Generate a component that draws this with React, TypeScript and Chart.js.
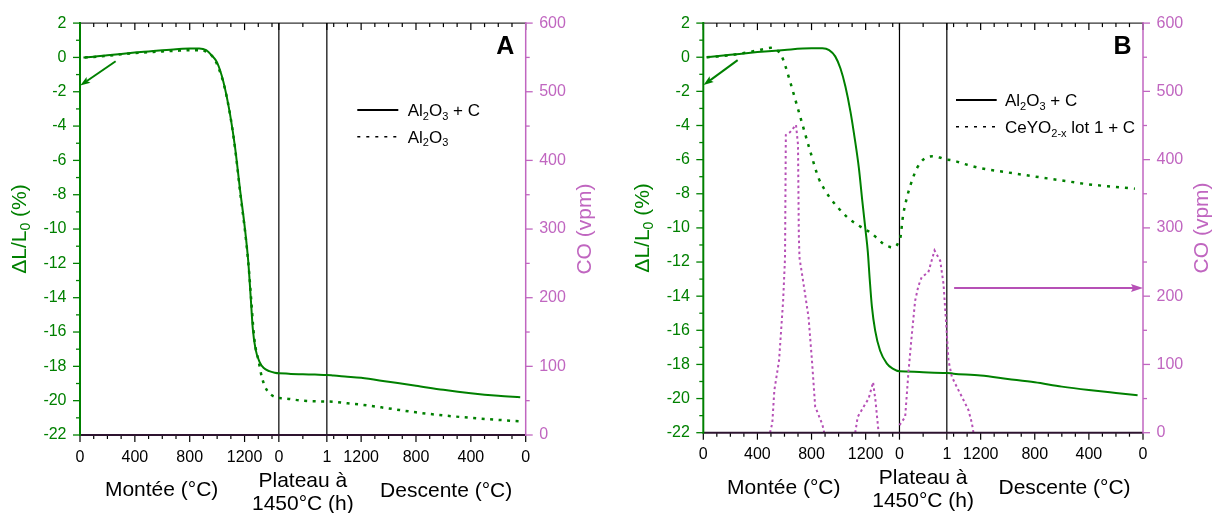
import React, { useEffect, useRef } from "react";
import { Chart, registerables } from "chart.js";

Chart.register(...registerables);

type Pt = [number, number];

// ---- composite x axis: heating ramp (°C), 1 h hold, cooling (°C) ----
const RAMP_MAX = 1450;
const HOLD_SPAN = 350;
const X_MAX = 2 * RAMP_MAX + HOLD_SPAN;

const rampTickLabels = [0, 400, 800, 1200];
const holdTickLabels = [0, 1];
const coolTickLabels = [1200, 800, 400, 0];

// ---- Panel A : ΔL/L0 (%) ----
const aSolidRamp: Pt[] = [[25, 0], [100, 0.04], [200, 0.12], [300, 0.2], [400, 0.28], [500, 0.35], [600, 0.42], [700, 0.48], [800, 0.52], [870, 0.52], [920, 0.42], [960, 0.12], [1000, -0.3], [1045, -1.4], [1094, -3.3], [1130, -5.2], [1167, -7.7], [1203, -10.0], [1227, -11.9], [1245, -14.0], [1260, -15.8], [1280, -17.0], [1310, -17.75], [1340, -18.1], [1380, -18.28], [1420, -18.37], [1450, -18.4]];
const aSolidHold: Pt[] = [[0, -18.4], [0.25, -18.44], [0.5, -18.46], [0.75, -18.48], [1, -18.5]];
const aSolidCool: Pt[] = [[1450, -18.5], [1400, -18.54], [1300, -18.6], [1200, -18.67], [1000, -18.9], [800, -19.13], [600, -19.37], [400, -19.57], [200, -19.72], [40, -19.8]];

const aDotRamp: Pt[] = [[35, 0], [100, 0.03], [200, 0.1], [300, 0.18], [400, 0.25], [500, 0.3], [600, 0.35], [700, 0.39], [800, 0.42], [880, 0.42], [930, 0.3], [970, 0.02], [1005, -0.5], [1050, -1.6], [1098, -3.5], [1134, -5.5], [1170, -8.0], [1206, -10.3], [1230, -12.2], [1250, -14.3], [1265, -15.9], [1280, -16.9], [1300, -17.6], [1325, -18.6], [1350, -19.2], [1385, -19.6], [1420, -19.78], [1450, -19.85]];
const aDotHold: Pt[] = [[0, -19.85], [0.5, -20.0], [1, -20.05]];
const aDotCool: Pt[] = [[1450, -20.05], [1300, -20.15], [1200, -20.23], [1000, -20.45], [800, -20.68], [600, -20.86], [400, -21.0], [200, -21.12], [40, -21.2]];

// ---- Panel B : ΔL/L0 (%) ----
const bSolidRamp: Pt[] = [[25, 0], [200, 0.14], [400, 0.3], [600, 0.43], [800, 0.52], [880, 0.52], [930, 0.42], [975, 0.05], [1014, -0.66], [1050, -1.7], [1088, -3.2], [1120, -4.8], [1150, -6.5], [1175, -8.4], [1200, -10.2], [1216, -11.4], [1230, -13.0], [1246, -14.6], [1270, -16.0], [1307, -17.2], [1357, -17.95], [1400, -18.25], [1450, -18.4]];
const bSolidHold: Pt[] = [[0, -18.4], [0.5, -18.46], [1, -18.5]];
const bSolidCool: Pt[] = [[1450, -18.5], [1400, -18.54], [1200, -18.65], [1000, -18.85], [800, -19.05], [600, -19.3], [400, -19.5], [200, -19.67], [40, -19.8]];

const bDotRamp: Pt[] = [[25, 0], [100, 0.04], [200, 0.12], [300, 0.25], [400, 0.4], [460, 0.5], [500, 0.55], [530, 0.5], [560, 0.3], [580, 0.05], [610, -0.6], [642, -1.44], [691, -2.78], [740, -4.14], [790, -5.5], [852, -7.08], [900, -7.8], [938, -8.25], [1000, -8.85], [1062, -9.36], [1120, -9.72], [1185, -10.04], [1240, -10.3], [1284, -10.6], [1333, -10.95], [1380, -11.12], [1410, -11.15], [1432, -11.0], [1450, -10.75]];
const bDotHold: Pt[] = [[0, -10.75], [0.08, -9.2], [0.15, -8.3], [0.22, -7.6], [0.3, -6.95], [0.37, -6.5], [0.5, -6.0], [0.6, -5.85], [0.7, -5.8], [0.85, -5.88], [1, -6.0]];
const bDotCool: Pt[] = [[1450, -6.0], [1300, -6.3], [1200, -6.5], [1000, -6.75], [800, -6.99], [600, -7.22], [400, -7.45], [200, -7.6], [60, -7.7]];

// ---- Panel B : CO (vpm) ----
const bCoPeak1Ramp: Pt[] = [[493, 0], [510, 14], [525, 62], [560, 106], [590, 193], [604, 256], [610, 436], [640, 440], [685, 451], [700, 422], [706, 290], [711, 256], [741, 218], [778, 169], [803, 106], [827, 38], [860, 22], [880, 12], [894, 0]];
const bCoPeak2Ramp: Pt[] = [[1123, 0], [1141, 23], [1185, 38], [1222, 50], [1255, 74], [1272, 48], [1296, 0]];
const bCoPeak3Hold: Pt[] = [[0, 11], [0.12, 23], [0.19, 89], [0.26, 143], [0.33, 193], [0.4, 215], [0.47, 228], [0.61, 235], [0.74, 267], [0.86, 252], [0.93, 218], [1, 145]];
const bCoPeak3Cool: Pt[] = [[1438, 106], [1413, 82], [1376, 67], [1327, 48], [1290, 33], [1265, 14], [1253, 0]];

// ---- styles ----
const GREEN = "#008000";
const PURPLE = "#B650B6";
const PURPLE_AXIS = "#C066C0";
const FONT = '"Liberation Sans", Arial, Helvetica, sans-serif';

type Phase = "ramp" | "hold" | "cool";
const ux = (phase: Phase, v: number) =>
  phase === "ramp" ? v : phase === "hold" ? RAMP_MAX + v * HOLD_SPAN : RAMP_MAX + HOLD_SPAN + (RAMP_MAX - v);

const toXY = (phase: Phase, pts: Pt[]) => pts.map(([a, b]) => ({ x: ux(phase, a), y: b }));
const series = (ramp: Pt[], hold: Pt[], cool: Pt[]) => [...toXY("ramp", ramp), ...toXY("hold", hold), ...toXY("cool", cool)];

const xTickValues = [
  ...rampTickLabels.map((v) => ux("ramp", v)),
  ...holdTickLabels.map((v) => ux("hold", v)),
  ...coolTickLabels.map((v) => ux("cool", v)),
];
const xTickText = [...rampTickLabels, ...holdTickLabels, ...coolTickLabels].map(String);

type Seg = { t: string; sub?: boolean };

function richWidth(ctx: CanvasRenderingContext2D, segs: Seg[], size: number) {
  let w = 0;
  for (const s of segs) {
    ctx.font = `${s.sub ? Math.round(size * 0.66) : size}px ${FONT}`;
    w += ctx.measureText(s.t).width;
  }
  return w;
}

function drawRich(ctx: CanvasRenderingContext2D, segs: Seg[], x: number, y: number, size: number, color: string, align: "left" | "center") {
  ctx.fillStyle = color;
  ctx.textBaseline = "alphabetic";
  ctx.textAlign = "left";
  let cx = align === "center" ? x - richWidth(ctx, segs, size) / 2 : x;
  for (const s of segs) {
    ctx.font = `${s.sub ? Math.round(size * 0.66) : size}px ${FONT}`;
    ctx.fillText(s.t, cx, s.sub ? y + size * 0.22 : y);
    cx += ctx.measureText(s.t).width;
  }
}

function seg(ctx: CanvasRenderingContext2D, x1: number, y1: number, x2: number, y2: number) {
  ctx.beginPath();
  ctx.moveTo(x1, y1);
  ctx.lineTo(x2, y2);
  ctx.stroke();
}

function arrow(ctx: CanvasRenderingContext2D, x1: number, y1: number, x2: number, y2: number, color: string, width: number, hl: number, hw: number) {
  const a = Math.atan2(y2 - y1, x2 - x1);
  const bx = x2 - hl * Math.cos(a);
  const by = y2 - hl * Math.sin(a);
  ctx.strokeStyle = color;
  ctx.lineWidth = width;
  ctx.setLineDash([]);
  seg(ctx, x1, y1, bx + 2 * Math.cos(a), by + 2 * Math.sin(a));
  ctx.fillStyle = color;
  ctx.beginPath();
  ctx.moveTo(x2, y2);
  ctx.lineTo(bx + (hw / 2) * Math.sin(a), by - (hw / 2) * Math.cos(a));
  ctx.lineTo(bx + 2 * Math.cos(a), by + 2 * Math.sin(a));
  ctx.lineTo(bx - (hw / 2) * Math.sin(a), by + (hw / 2) * Math.cos(a));
  ctx.closePath();
  ctx.fill();
}

type LegendItem = { segs: Seg[]; dotted: boolean; y: number; textY: number };
type ArrowCfg = { from: [number, number]; to: [number, number]; axis: "y" | "y1"; color: string; hl: number; hw: number };

interface PanelCfg {
  letter: string;
  width: number;
  top: number;
  leftW: number;
  rightW: number;
  xH: number;
  xPad: number;
  legendX0: number;
  legendX1: number;
  legendTextX: number;
  legend: LegendItem[];
  arrows: ArrowCfg[];
  datasets: any[];
}

function makeDecor(cfg: PanelCfg) {
  return {
    id: "decor" + cfg.letter,
    beforeDatasetsDraw(chart: any) {
      const ctx: CanvasRenderingContext2D = chart.ctx;
      const xs = chart.scales.x;
      const { top, bottom } = chart.chartArea;
      ctx.save();
      ctx.strokeStyle = "#000";
      ctx.lineWidth = 1.2;
      for (const u of [ux("hold", 0), ux("hold", 1)]) {
        const p = xs.getPixelForValue(u);
        seg(ctx, p, top, p, bottom);
      }
      ctx.restore();
    },
    afterDraw(chart: any) {
      const ctx: CanvasRenderingContext2D = chart.ctx;
      const xs = chart.scales.x;
      const yl = chart.scales.y;
      const yr = chart.scales.y1;
      const { left, right, top, bottom } = chart.chartArea;
      ctx.save();
      ctx.setLineDash([]);

      // x ticks (bottom outward, top inward)
      const xt: [number, boolean][] = [];
      for (let T = 0; T <= 1400; T += 100) xt.push([ux("ramp", T), T % 400 === 0]);
      xt.push([ux("hold", 0), true], [ux("hold", 0.5), false], [ux("hold", 1), true]);
      for (let T = 1400; T >= 0; T -= 100) xt.push([ux("cool", T), T % 400 === 0]);
      ctx.strokeStyle = "#000";
      ctx.lineWidth = 1.2;
      for (const [u, major] of xt) {
        const p = xs.getPixelForValue(u);
        const L = major ? 7 : 4;
        seg(ctx, p, bottom, p, bottom + L);
        seg(ctx, p, top, p, top + L);
      }
      // top axis line
      ctx.lineWidth = 1;
      seg(ctx, left, top, right, top);
      // bottom axis line
      ctx.strokeStyle = "#2e1430";
      ctx.lineWidth = 2;
      seg(ctx, left, bottom, right, bottom);

      // left axis
      ctx.strokeStyle = GREEN;
      ctx.lineWidth = 1.3;
      for (let v = -22; v <= 2; v += 1) {
        const p = yl.getPixelForValue(v);
        seg(ctx, left, p, left - (v % 2 === 0 ? 7 : 4), p);
      }
      ctx.lineWidth = 2;
      seg(ctx, left, top - 1, left, bottom + 1);

      // right axis
      ctx.strokeStyle = PURPLE_AXIS;
      ctx.lineWidth = 1.3;
      for (let v = 0; v <= 600; v += 50) {
        const p = yr.getPixelForValue(v);
        seg(ctx, right, p, right + (v % 100 === 0 ? 7 : 4), p);
      }
      ctx.lineWidth = 1.5;
      seg(ctx, right, top - 1, right, bottom + 1);

      // arrows
      for (const a of cfg.arrows) {
        const ys = chart.scales[a.axis];
        arrow(
          ctx,
          xs.getPixelForValue(a.from[0]), ys.getPixelForValue(a.from[1]),
          xs.getPixelForValue(a.to[0]), ys.getPixelForValue(a.to[1]),
          a.color, 2, a.hl, a.hw
        );
      }

      // panel letter
      ctx.fillStyle = "#000";
      ctx.font = `bold 25px ${FONT}`;
      ctx.textAlign = "left";
      ctx.textBaseline = "alphabetic";
      ctx.fillText(cfg.letter, right - 29.5, 53.5);

      // legend
      for (const it of cfg.legend) {
        ctx.strokeStyle = "#000";
        ctx.lineWidth = it.dotted ? 1.6 : 2;
        ctx.setLineDash(it.dotted ? [3, 6] : []);
        seg(ctx, cfg.legendX0, it.y, cfg.legendX1, it.y);
        ctx.setLineDash([]);
        drawRich(ctx, it.segs, cfg.legendTextX, it.textY, 17, "#000", "left");
      }

      // axis titles
      const cy = (top + bottom) / 2;
      ctx.save();
      ctx.translate(left - 54.5, cy);
      ctx.rotate(-Math.PI / 2);
      drawRich(ctx, [{ t: "ΔL/L" }, { t: "0", sub: true }, { t: " (%)" }], 0, 0, 21, GREEN, "center");
      ctx.restore();
      ctx.save();
      ctx.translate(right + 65, cy);
      ctx.rotate(-Math.PI / 2);
      drawRich(ctx, [{ t: "CO (vpm)" }], 0, 0, 21, PURPLE_AXIS, "center");
      ctx.restore();

      drawRich(ctx, [{ t: "Montée (°C)" }], xs.getPixelForValue(ux("ramp", 595)), bottom + 61, 21, "#000", "center");
      drawRich(ctx, [{ t: "Plateau à" }], xs.getPixelForValue(ux("hold", 0.5)), bottom + 51.5, 21, "#000", "center");
      drawRich(ctx, [{ t: "1450°C (h)" }], xs.getPixelForValue(ux("hold", 0.5)), bottom + 74.5, 21, "#000", "center");
      drawRich(ctx, [{ t: "Descente (°C)" }], xs.getPixelForValue(ux("cool", 580)), bottom + 61.5, 21, "#000", "center");

      ctx.restore();
    },
  };
}

function buildConfig(cfg: PanelCfg): any {
  const tickFont = { family: FONT, size: 16 };
  return {
    type: "line",
    data: { datasets: cfg.datasets },
    options: {
      responsive: false,
      maintainAspectRatio: false,
      animation: false,
      devicePixelRatio: 1,
      layout: { padding: { top: cfg.top, left: 0, right: 0, bottom: 0 } },
      plugins: { legend: { display: false }, tooltip: { enabled: false }, title: { display: false } },
      elements: { point: { radius: 0, hoverRadius: 0 } },
      scales: {
        x: {
          type: "linear",
          min: 0,
          max: X_MAX,
          afterBuildTicks: (s: any) => {
            s.ticks = xTickValues.map((v) => ({ value: v }));
          },
          afterFit: (s: any) => {
            s.height = cfg.xH;
          },
          ticks: {
            autoSkip: false,
            maxRotation: 0,
            minRotation: 0,
            padding: cfg.xPad,
            color: "#000",
            font: tickFont,
            callback: (_v: any, i: number) => xTickText[i],
          },
          grid: { display: false, drawTicks: false },
          border: { display: false },
        },
        y: {
          position: "left",
          min: -22,
          max: 2,
          afterFit: (s: any) => {
            s.width = cfg.leftW;
          },
          ticks: { stepSize: 2, padding: 13.5, color: GREEN, font: tickFont },
          grid: { display: false, drawTicks: false },
          border: { display: false },
        },
        y1: {
          position: "right",
          min: 0,
          max: 600,
          afterFit: (s: any) => {
            s.width = cfg.rightW;
          },
          ticks: { stepSize: 100, padding: 13.5, color: PURPLE_AXIS, font: tickFont },
          grid: { display: false, drawTicks: false },
          border: { display: false },
        },
      },
    },
    plugins: [makeDecor(cfg)],
  };
}

const solidStyle = { borderColor: GREEN, borderWidth: 2, fill: false, cubicInterpolationMode: "monotone", yAxisID: "y", pointRadius: 0 };
const dotStyle = { borderColor: GREEN, borderWidth: 2.5, borderDash: [3, 5.5], fill: false, cubicInterpolationMode: "monotone", yAxisID: "y", pointRadius: 0 };

const coData = [
  ...toXY("ramp", bCoPeak1Ramp),
  { x: ux("ramp", 1000), y: null },
  ...toXY("ramp", bCoPeak2Ramp),
  { x: ux("ramp", 1400), y: null },
  ...toXY("hold", bCoPeak3Hold),
  ...toXY("cool", bCoPeak3Cool),
];

const panelA: PanelCfg = {
  letter: "A",
  width: 608,
  top: 17.3,
  leftW: 80,
  rightW: 82.3,
  xH: 78,
  xPad: 13,
  legendX0: 357.3,
  legendX1: 398.3,
  legendTextX: 407.7,
  legend: [
    { segs: [{ t: "Al" }, { t: "2", sub: true }, { t: "O" }, { t: "3", sub: true }, { t: " + C" }], dotted: false, y: 110, textY: 116 },
    { segs: [{ t: "Al" }, { t: "2", sub: true }, { t: "O" }, { t: "3", sub: true }], dotted: true, y: 136.7, textY: 142.5 },
  ],
  arrows: [{ from: [ux("ramp", 260), -0.22], to: [ux("ramp", 2), -1.64], axis: "y", color: GREEN, hl: 10, hw: 7 }],
  datasets: [
    { label: "Al2O3 + C", data: series(aSolidRamp, aSolidHold, aSolidCool), ...solidStyle },
    { label: "Al2O3", data: series(aDotRamp, aDotHold, aDotCool), ...dotStyle },
  ],
};

const panelB: PanelCfg = {
  letter: "B",
  width: 609,
  top: 21,
  leftW: 95.3,
  rightW: 74,
  xH: 80.3,
  xPad: 12,
  legendX0: 348,
  legendX1: 388.7,
  legendTextX: 397,
  legend: [
    { segs: [{ t: "Al" }, { t: "2", sub: true }, { t: "O" }, { t: "3", sub: true }, { t: " + C" }], dotted: false, y: 100, textY: 106 },
    { segs: [{ t: "CeYO" }, { t: "2-x", sub: true }, { t: " lot 1 + C" }], dotted: true, y: 126.7, textY: 133 },
  ],
  arrows: [
    { from: [ux("ramp", 254), -0.17], to: [ux("ramp", 2), -1.63], axis: "y", color: GREEN, hl: 10, hw: 7 },
    { from: [ux("cool", 1396), 212], to: [X_MAX, 212], axis: "y1", color: PURPLE, hl: 12, hw: 8 },
  ],
  datasets: [
    { label: "CO", data: coData, borderColor: PURPLE, borderWidth: 2, borderDash: [2.5, 3], fill: false, tension: 0, spanGaps: false, yAxisID: "y1", pointRadius: 0 },
    { label: "Al2O3 + C", data: series(bSolidRamp, bSolidHold, bSolidCool), ...solidStyle },
    { label: "CeYO2-x lot 1 + C", data: series(bDotRamp, bDotHold, bDotCool), ...dotStyle, borderDash: [3, 6] },
  ],
};

function Panel({ cfg, left }: { cfg: PanelCfg; left: number }) {
  const ref = useRef<HTMLCanvasElement>(null);
  useEffect(() => {
    if (!ref.current) return;
    const chart = new Chart(ref.current, buildConfig(cfg));
    return () => chart.destroy();
  }, []);
  return (
    <canvas
      ref={ref}
      width={cfg.width}
      height={513}
      style={{ position: "absolute", left, top: 0, width: cfg.width, height: 513 }}
    />
  );
}

export default function App() {
  return (
    <div style={{ position: "absolute", left: 0, top: 0, width: 1217, height: 513, background: "#fff", overflow: "hidden" }}>
      <Panel cfg={panelA} left={0} />
      <Panel cfg={panelB} left={608} />
    </div>
  );
}
